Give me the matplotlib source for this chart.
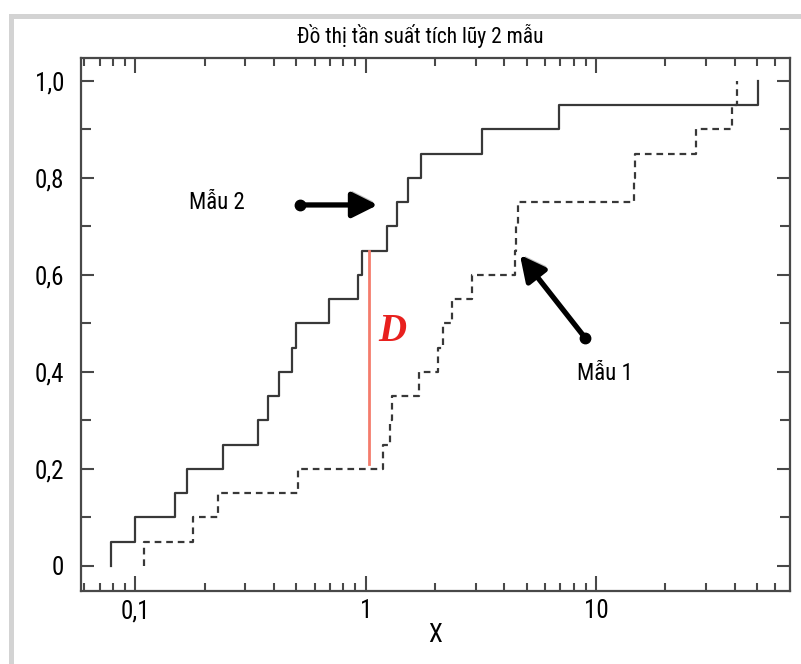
import matplotlib
matplotlib.use("Agg")
import matplotlib.pyplot as plt
import matplotlib.patheffects as pe
from matplotlib import font_manager
from matplotlib.patches import Rectangle
from matplotlib.ticker import FixedLocator, LogLocator, NullFormatter, MultipleLocator

# Data (x on log scale, cumulative frequency on y)
sample2_x = [0.078, 0.100, 0.149, 0.168, 0.239, 0.339, 0.375, 0.418, 0.476, 0.496,
             0.689, 0.923, 0.961, 1.24, 1.37, 1.53, 1.74, 3.21, 6.93, 50.4]
sample2_cf = [0.05, 0.10, 0.15, 0.20, 0.25, 0.30, 0.35, 0.40, 0.45, 0.50,
              0.55, 0.60, 0.65, 0.70, 0.75, 0.80, 0.85, 0.90, 0.95, 1.00]
sample1_x = [0.109, 0.177, 0.228, 0.506, 1.19, 1.27, 1.30, 1.70, 2.06, 2.16,
             2.37, 2.89, 4.45, 4.49, 4.58, 14.6, 14.7, 27.2, 39.0, 41.0]
sample1_cf = [0.05, 0.10, 0.15, 0.20, 0.25, 0.30, 0.35, 0.40, 0.45, 0.50,
              0.55, 0.60, 0.65, 0.70, 0.75, 0.80, 0.85, 0.90, 0.95, 1.00]

# D statistic: max vertical gap between the two curves
d_x = 1.03
d_low, d_high = 0.21, 0.65

y_ticks = [0, 0.2, 0.4, 0.6, 0.8, 1.0]
y_labels = ["0", "0,2", "0,4", "0,6", "0,8", "1,0"]
x_ticks = [0.1, 1, 10]
x_labels = ["0,1", "1", "10"]

# Pick a narrow font if one is installed (the reference uses a condensed face)
installed = {f.name for f in font_manager.fontManager.ttflist}
narrow = [f for f in ["Roboto Condensed", "Liberation Sans Narrow", "DejaVu Sans Condensed"] if f in installed]
if narrow:
    FAMILY = [narrow[0], "DejaVu Sans"]
    scale = 1.0
else:
    FAMILY = ["Liberation Sans", "DejaVu Sans"]
    scale = 0.85
plt.rcParams["font.family"] = FAMILY

LINE_COL = "#383838"
AX_COL = "#484848"

fig = plt.figure(figsize=(8.01, 6.64), dpi=100)
ax = fig.add_axes([81 / 801, 1 - 591 / 664, (790 - 81) / 801, (591 - 58) / 664])

# light gray frame along top and left edges
fig.add_artist(Rectangle((9 / 801, 1 - 19 / 664), 1, 5 / 664, transform=fig.transFigure,
                         color="#d3d3d3", lw=0, zorder=0))
fig.add_artist(Rectangle((9 / 801, 0), 5 / 801, 1 - 14 / 664, transform=fig.transFigure,
                         color="#d3d3d3", lw=0, zorder=0))


def ecdf_path(xs, cf):
    return [xs[0]] + list(xs), [0] + list(cf)


x2, y2 = ecdf_path(sample2_x, sample2_cf)
x1, y1 = ecdf_path(sample1_x, sample1_cf)
ax.step(x2, y2, where="post", color=LINE_COL, lw=1.6)
ax.step(x1, y1, where="post", color=LINE_COL, lw=1.6, linestyle=(0, (3, 2.2)))

ax.plot([d_x, d_x], [d_low, d_high], color="#f47c6c", lw=2.0)
ax.text(1.30, 0.483, "D", color="#e8201e", fontsize=28,
        fontstyle="italic", fontweight="bold", family=["Liberation Serif", "DejaVu Serif"],
        ha="center", va="center")

# arrows with a soft gray shadow
shadow = [pe.SimplePatchShadow(offset=(1, 2.5), shadow_rgbFace="#9a9a9a", alpha=0.6), pe.Normal()]
for (tail, tip) in [((0.516, 0.744), (1.127, 0.744)), ((8.96, 0.470), (4.67, 0.641))]:
    ann = ax.annotate("", xy=tip, xytext=tail,
                      arrowprops=dict(arrowstyle="-|>,head_length=0.7,head_width=0.35",
                                      lw=3.8, color="black", mutation_scale=22,
                                      shrinkA=0, shrinkB=0))
    ann.arrow_patch.set_path_effects(shadow)
    ax.plot(*tail, "o", color="black", ms=7.5, zorder=5)

ax.text(0.225, 0.75, "M\u1eabu 2", fontsize=16.5 * scale, ha="center", va="center")
ax.text(10.9, 0.396, "M\u1eabu 1", fontsize=16.5 * scale, ha="center", va="center")

ax.set_xscale("log")
ax.set_xlim(0.058, 69.5)
ax.set_ylim(-0.052, 1.047)

ax.xaxis.set_major_locator(FixedLocator(x_ticks))
ax.set_xticklabels(x_labels)
ax.xaxis.set_minor_locator(LogLocator(base=10, subs=range(2, 10)))
ax.xaxis.set_minor_formatter(NullFormatter())
ax.set_yticks(y_ticks)
ax.set_yticklabels(y_labels)
ax.yaxis.set_minor_locator(MultipleLocator(0.1))

ax.tick_params(axis="both", which="both", direction="in", top=True, right=True,
               colors=AX_COL, width=1.5, labelcolor="black", labelsize=18 * scale)
ax.tick_params(axis="x", which="major", length=11, pad=6)
ax.tick_params(axis="x", which="minor", length=6)
ax.tick_params(axis="y", which="major", length=9.5, pad=12)
ax.tick_params(axis="y", which="minor", length=7.5)
for sp in ax.spines.values():
    sp.set_color(AX_COL)
    sp.set_linewidth(1.6)

ax.set_xlabel("X", fontsize=18 * scale, labelpad=0)
fig.text(420 / 801, 1 - 43 / 664, "\u0110\u1ed3 th\u1ecb t\u1ea7n su\u1ea5t t\u00edch l\u0169y 2 m\u1eabu",
         fontsize=15.5 * scale, ha="center", va="baseline")

fig.savefig("out.png", dpi=100)
